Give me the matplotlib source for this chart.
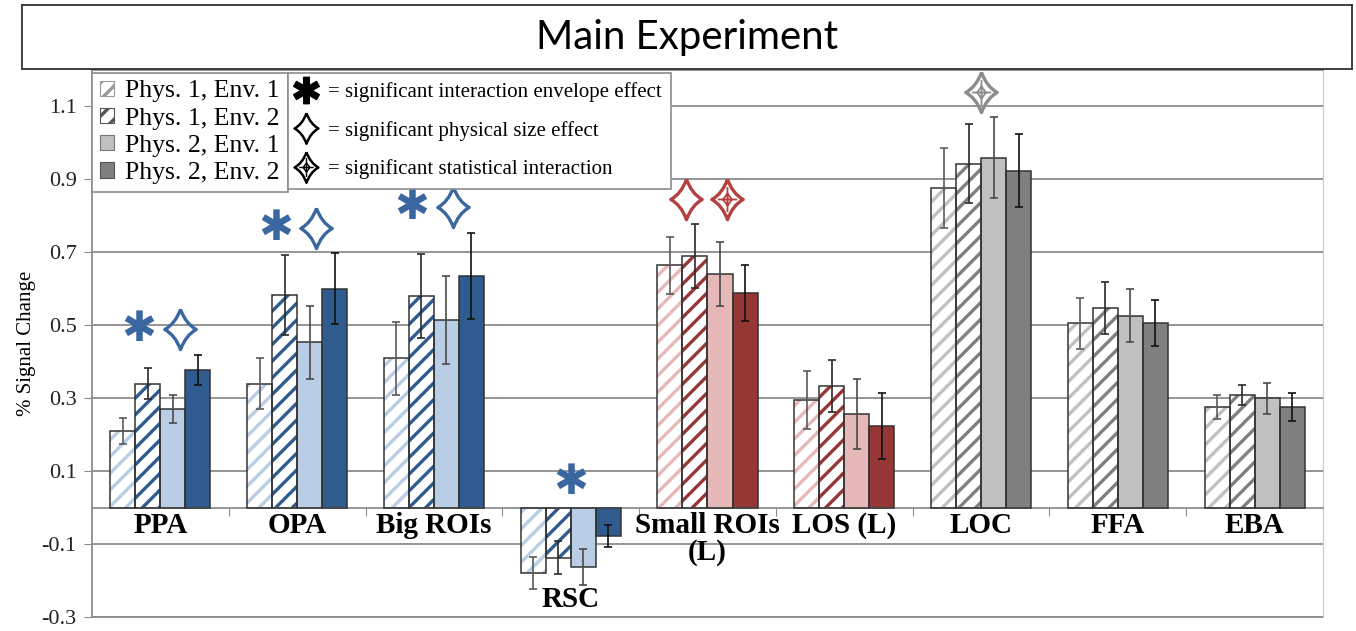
import numpy as np
import matplotlib.pyplot as plt
from matplotlib.patches import Patch
from matplotlib.lines import Line2D
from matplotlib.path import Path

categories = ["PPA", "OPA", "Big ROIs", "RSC", "Small ROIs\n(L)", "LOS (L)", "LOC", "FFA", "EBA"]
families = ["blue", "blue", "blue", "blue", "red", "red", "gray", "gray", "gray"]
conditions = ["Phys. 1, Env. 1", "Phys. 1, Env. 2", "Phys. 2, Env. 1", "Phys. 2, Env. 2"]

# % signal change per condition
p1e1 = [0.21, 0.34, 0.41, -0.18, 0.665, 0.295, 0.877, 0.506, 0.276]
p1e2 = [0.34, 0.583, 0.58, -0.137, 0.69, 0.334, 0.943, 0.548, 0.309]
p2e1 = [0.27, 0.453, 0.515, -0.162, 0.641, 0.257, 0.96, 0.526, 0.30]
p2e2 = [0.378, 0.60, 0.636, -0.078, 0.588, 0.224, 0.924, 0.506, 0.276]

# error bar half-lengths
e_p1e1 = [0.036, 0.069, 0.10, 0.044, 0.078, 0.08, 0.11, 0.07, 0.032]
e_p1e2 = [0.042, 0.11, 0.115, 0.045, 0.087, 0.072, 0.108, 0.072, 0.027]
e_p2e1 = [0.038, 0.10, 0.12, 0.049, 0.088, 0.095, 0.11, 0.073, 0.043]
e_p2e2 = [0.041, 0.097, 0.118, 0.031, 0.077, 0.09, 0.10, 0.064, 0.039]

# * = interaction envelope effect, d = physical size effect, x = statistical interaction
significance = ["*d", "*d", "*d", "*", "dx", "", "x", "", ""]

palette = {"blue": ("#b9cde5", "#2f5b8e"),
           "red": ("#e6b9b8", "#953735"),
           "gray": ("#c0c0c0", "#7f7f7f")}
sym_color = {"blue": "#3a67a0", "red": "#b3413f", "gray": "#8c8c8c"}
err_colors = ["#5a5a5a", "#2a2a2a", "#4a4a4a", "#111111"]
GRID = "#8c8c8c"
SERIF = "Liberation Serif"

plt.rcParams["hatch.linewidth"] = 2.4

# concave four-pointed diamond and the cross drawn inside it for the interaction mark
M, C3, L = Path.MOVETO, Path.CURVE3, Path.LINETO
diamond = Path([(0, 1), (0.26, 0.28), (0.78, 0), (0.26, -0.28), (0, -1),
                (-0.26, -0.28), (-0.78, 0), (-0.26, 0.28), (0, 1)],
               [M, C3, C3, C3, C3, C3, C3, C3, C3])
inner = Path([(0, 0.62), (0, -0.62), (-0.48, 0), (0.48, 0),
              (0, 0.3), (0.22, 0), (0, -0.3), (-0.22, 0), (0, 0.3)],
             [M, L, M, L, M, L, L, L, L])
INNER_SCALE = 0.62

values = [p1e1, p1e2, p2e1, p2e2]
errors = [e_p1e1, e_p1e2, e_p2e1, e_p2e2]
light = [palette[f][0] for f in families]
dark = [palette[f][1] for f in families]

fig = plt.figure(figsize=(13.56, 6.31), dpi=100)
ax = fig.add_axes([92 / 1356, 1 - 617 / 631, (1323 - 92) / 1356, (617 - 70) / 631])

width = 0.183
x = np.arange(len(categories))
for k in range(4):
    xs = x + (k - 1.5) * width
    if k == 0:
        ax.bar(xs, values[k], width, color="white", edgecolor=light, hatch="//", linewidth=0, zorder=2)
    elif k == 1:
        ax.bar(xs, values[k], width, color="white", edgecolor=dark, hatch="//", linewidth=0, zorder=2)
    elif k == 2:
        ax.bar(xs, values[k], width, color=light, linewidth=0, zorder=2)
    else:
        ax.bar(xs, values[k], width, color=dark, linewidth=0, zorder=2)
    ax.bar(xs, values[k], width, fill=False, edgecolor="#333333", linewidth=1.1, zorder=3)
    ax.errorbar(xs, values[k], yerr=errors[k], fmt="none", ecolor=err_colors[k],
                elinewidth=1.2, capsize=3, capthick=1.2, zorder=4)

ax.set_xlim(-0.5, len(categories) - 0.5)
ax.set_ylim(-0.3, 1.2)
yt = np.round(np.arange(-0.3, 1.11, 0.2), 1)
ax.set_yticks(yt)
ax.set_yticklabels(["%.1f" % v for v in yt], family=SERIF, fontsize=16, color="#222222")
ax.yaxis.grid(True, color=GRID, linewidth=1.3)
ax.set_axisbelow(True)
ax.axhline(-0.3, color=GRID, linewidth=1.3, clip_on=False, zorder=1)

ax.spines["bottom"].set_position(("data", 0))
for side in ["bottom", "left", "top"]:
    ax.spines[side].set_color(GRID)
    ax.spines[side].set_linewidth(1.3)
ax.spines["right"].set_color("#c8c8c8")
ax.set_xticks(np.arange(0.5, len(categories) - 1, 1))
ax.tick_params(axis="x", length=6, color=GRID, labelbottom=False)
ax.tick_params(axis="y", length=6, color=GRID, pad=5)
ax.set_ylabel("% Signal Change", family=SERIF, fontsize=15, labelpad=4)

# category labels sit just below the lowest bar (or the zero line)
for i, cat in enumerate(categories):
    low = min(0, min(v[i] for v in values))
    gap = 0.012 if low == 0 else 0.035
    ax.text(i, low - gap, cat, ha="center", va="top", family=SERIF,
            fontsize=21, fontweight="bold", linespacing=1.0)

# significance symbols above each group
for i, sig in enumerate(significance):
    if not sig:
        continue
    top = max(0, max(v[i] + e[i] for v, e in zip(values, errors))) + 0.07
    offs = [0.0] if len(sig) == 1 else [-0.16, 0.14]
    c = sym_color[families[i]]
    for s, dx in zip(sig, offs):
        if s == "*":
            ax.text(i + dx, top, "\u2731", ha="center", va="center", fontsize=30, color=c,
                    family="DejaVu Sans", zorder=5)
        else:
            ax.plot(i + dx, top, ls="none", marker=diamond, markersize=29, mfc="none",
                    mec=c, mew=2.4, zorder=5)
            if s == "x":
                ax.plot(i + dx, top, ls="none", marker=inner, markersize=29 * INNER_SCALE,
                        mfc="none", mec=c, mew=1.3, zorder=5)

# condition legend
handles = [Patch(facecolor="white", edgecolor="#9a9a9a", hatch="//", linewidth=0.8),
           Patch(facecolor="white", edgecolor="#555555", hatch="//", linewidth=0.8),
           Patch(facecolor="#c0c0c0", edgecolor="#777777", linewidth=0.8),
           Patch(facecolor="#7f7f7f", edgecolor="#555555", linewidth=0.8)]
leg1 = ax.legend(handles, conditions, loc="upper left", bbox_to_anchor=(0, 0.995), borderaxespad=0,
                 fancybox=False, edgecolor=GRID, framealpha=1, prop={"family": SERIF, "size": 18.5},
                 handlelength=0.55, handleheight=0.55, handletextpad=0.45, labelspacing=0.2,
                 borderpad=0.3)
leg1.get_frame().set_linewidth(1.2)
ax.add_artist(leg1)

fig.canvas.draw()
bb = leg1.get_window_extent().transformed(ax.transAxes.inverted())

def diamond_handle(size, with_cross=False):
    outer = Line2D([], [], ls="none", marker=diamond, mfc="none", mec="black", mew=1.8,
                   markersize=size)
    if not with_cross:
        return outer
    cross = Line2D([], [], ls="none", marker=inner, mfc="none", mec="black", mew=1.0,
                   markersize=size * INNER_SCALE)
    return (outer, cross)

sym_handles = [Line2D([], [], ls="none", marker="$\u2731$", color="black", markersize=19),
               diamond_handle(22),
               diamond_handle(22, with_cross=True)]
sym_labels = ["= significant interaction envelope effect",
              "= significant physical size effect",
              "= significant statistical interaction"]
leg2 = ax.legend(sym_handles, sym_labels, loc="upper left", bbox_to_anchor=(bb.x1, 0.995),
                 borderaxespad=0, fancybox=False, edgecolor=GRID, framealpha=1,
                 prop={"family": SERIF, "size": 15}, handlelength=0.9, handletextpad=0.6,
                 labelspacing=0.9, borderpad=0.45)
leg2.get_frame().set_linewidth(1.2)

# title box
tax = fig.add_axes([22 / 1356, 1 - 69 / 631, (1352 - 22) / 1356, 64 / 631])
tax.set_xticks([])
tax.set_yticks([])
for s in tax.spines.values():
    s.set_color("#333333")
    s.set_linewidth(1.3)
tax.text(0.5, 0.5, "Main Experiment", ha="center", va="center", fontsize=29, family="Lato",
         transform=tax.transAxes)

fig.savefig("out.png", dpi=100)
